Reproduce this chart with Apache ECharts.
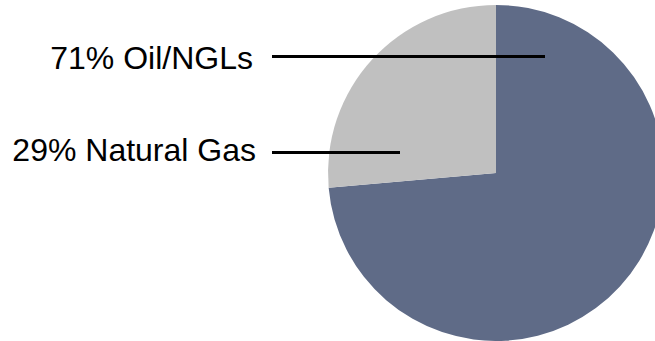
<!DOCTYPE html>
<html>
<head>
<meta charset="utf-8">
<script src="https://cdn.jsdelivr.net/npm/echarts@6/dist/echarts.min.js"></script>
<style>
  html, body { margin: 0; padding: 0; background: #fff; }
  #chart { width: 655px; height: 341px; }
</style>
</head>
<body>
<div id="chart"></div>
<script>
// slice order, values, label texts as printed
var categories = ['Oil/NGLs', 'Natural Gas'];
var shares = [73.6, 26.4];
var labelTexts = ['71% Oil/NGLs', '29% Natural Gas'];
var colors = ['#5f6b87', '#c0c0c0'];

var chart = echarts.init(document.getElementById('chart'), null, { renderer: 'svg' });

var font = '"Liberation Sans", Arial, sans-serif';

var option = {
    animation: false,
    series: [{
        type: 'pie',
        center: [496, 173],
        radius: 168,
        startAngle: 90,
        clockwise: true,
        silent: true,
        z: 1,
        label: { show: false },
        labelLine: { show: false },
        data: categories.map(function(c, i) {
            return { name: c, value: shares[i], itemStyle: { color: colors[i] } };
        })
    }],
    graphic: [
        { type: 'text', z: 100, x: 253, y: 41.5, style: { text: labelTexts[0], font: '32px ' + font, fill: '#000', textAlign: 'right', textVerticalAlign: 'top' } },
        { type: 'text', z: 100, x: 256, y: 134, style: { text: labelTexts[1], font: '32px ' + font, fill: '#000', textAlign: 'right', textVerticalAlign: 'top' } },
        { type: 'line', z: 100, shape: { x1: 272, y1: 56.5, x2: 545, y2: 56.5 }, style: { stroke: '#000', lineWidth: 3 } },
        { type: 'line', z: 100, shape: { x1: 272, y1: 152.5, x2: 400, y2: 152.5 }, style: { stroke: '#000', lineWidth: 3 } }
    ]
};

chart.setOption(option);
</script>
</body>
</html>
